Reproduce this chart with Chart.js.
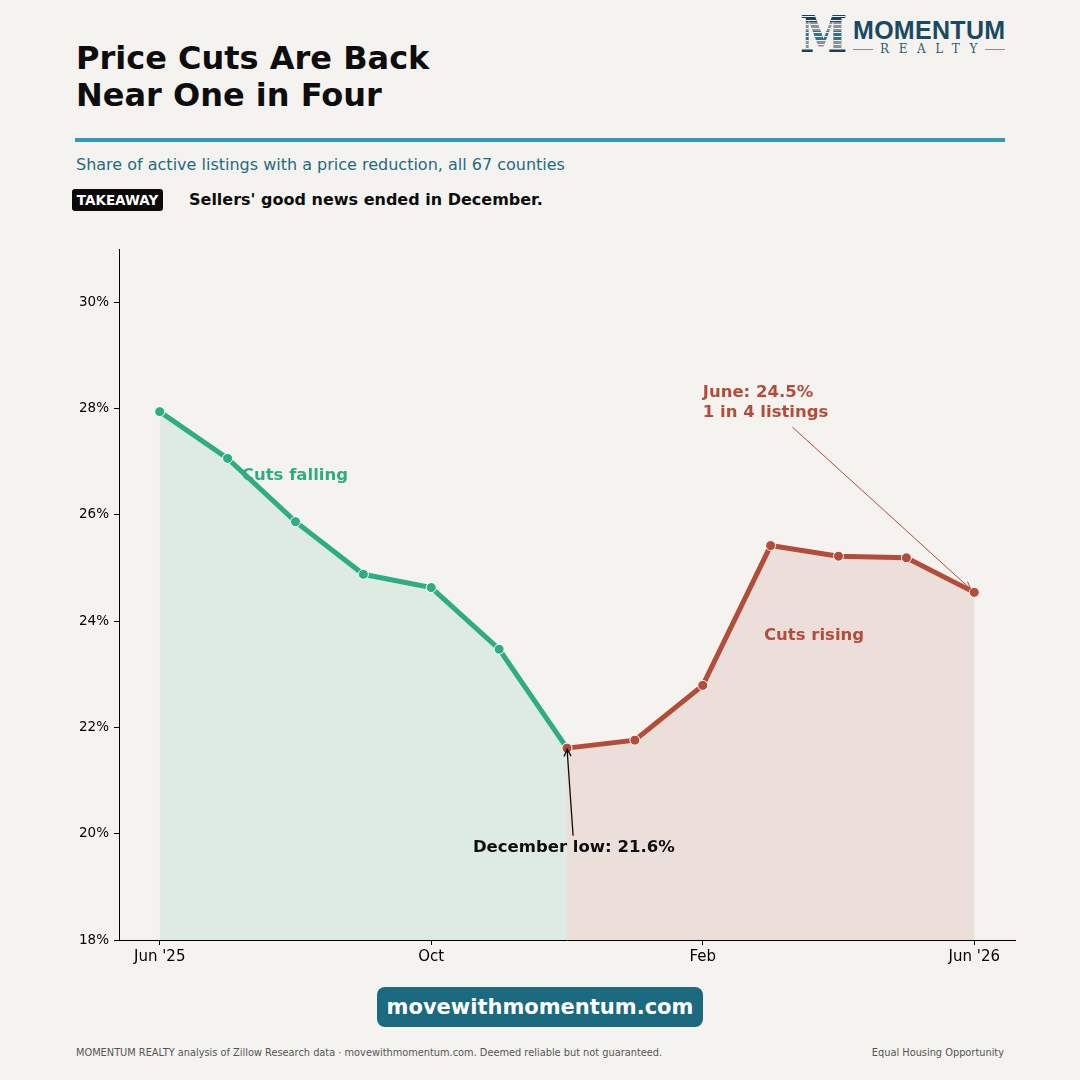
<!DOCTYPE html>
<html>
<head>
<meta charset="utf-8">
<script src="https://cdn.jsdelivr.net/npm/chart.js@4"></script>
<style>
  html, body { margin: 0; padding: 0; }
  body { width: 1080px; height: 1080px; background: #f4f3ef; position: relative; overflow: hidden; font-family: 'DejaVu Sans', sans-serif; }
  .abs { position: absolute; white-space: nowrap; }
  #title { left: 76px; top: 40px; font-size: 32px; line-height: 36.7px; font-weight: bold; color: #0d0d0d; }
  #rule { left: 75px; top: 138px; width: 930px; height: 4px; background: #3399b9; }
  #subtitle { left: 76px; top: 157px; font-size: 16px; line-height: 16px; color: #1f6b82; }
  #badge { left: 72px; top: 189px; width: 91px; height: 22px; border-radius: 3px; background: #0a0a0a; color: #fff; font-weight: bold; font-size: 13.5px; line-height: 22px; text-align: center; }
  #takeaway { left: 189px; top: 191px; font-size: 16px; line-height: 18px; font-weight: bold; color: #0d0d0d; }
  #logoM { left: 800px; top: 9px; font: bold 51px 'DejaVu Serif', serif; line-height: 51px; color: transparent;
    transform: scaleX(0.84); transform-origin: left top;
    background: repeating-linear-gradient(to bottom, rgba(0,0,0,0) 0 3px, #f4f3ef 3px 4px),
                linear-gradient(to bottom, #17425a 0 26%, #8d9297 26% 44%, #2f6f8f 44% 62%, #8d9297 62% 80%, #17425a 80%);
    -webkit-background-clip: text; background-clip: text; }
  #logoName { left: 853px; top: 16px; font: bold 25px 'Liberation Sans', Arial, sans-serif; line-height: 28px; color: #1a4a63; letter-spacing: 0.3px; }
  #logoSub { left: 853px; top: 42px; width: 152px; height: 14px; }
  #logoSub .ln { position: absolute; top: 7px; width: 20px; height: 1px; background: #8a8f93; }
  #logoSub .tx { position: absolute; left: 27px; top: 0; font: 12px 'DejaVu Serif', serif; line-height: 14px; color: #2d6075; letter-spacing: 9.6px; }
  #site { left: 377px; top: 987px; width: 326px; height: 40px; border-radius: 8px; background: #1b6a80; color: #fff; font-weight: bold; font-size: 21px; line-height: 40px; text-align: center; }
  #foot { left: 76px; top: 1047px; font-size: 9.8px; line-height: 12px; color: #555; }
  #eho { right: 76px; top: 1047px; font-size: 9.8px; line-height: 12px; color: #555; }
  #chartWrap { position: absolute; left: 0; top: 230px; width: 1080px; height: 760px; }
</style>
</head>
<body>
<div id="title" class="abs">Price Cuts Are Back<br>Near One in Four</div>
<div id="rule" class="abs"></div>
<div id="subtitle" class="abs">Share of active listings with a price reduction, all 67 counties</div>
<div id="badge" class="abs">TAKEAWAY</div>
<div id="takeaway" class="abs">Sellers' good news ended in December.</div>

<div id="logoM" class="abs">M</div>
<div id="logoName" class="abs">MOMENTUM</div>
<div id="logoSub" class="abs"><div class="ln" style="left:0"></div><div class="tx">REALTY</div><div class="ln" style="right:0"></div></div>

<div id="chartWrap"><canvas id="chart" width="1080" height="760"></canvas></div>

<div id="site" class="abs">movewithmomentum.com</div>
<div id="foot" class="abs">MOMENTUM REALTY analysis of Zillow Research data · movewithmomentum.com. Deemed reliable but not guaranteed.</div>
<div id="eho" class="abs">Equal Housing Opportunity</div>

<script>
// monthly share of listings with a price cut (%), Jun '25 .. Jun '26
const months = ["Jun '25", 'Jul', 'Aug', 'Sep', 'Oct', 'Nov', 'Dec', 'Jan', 'Feb', 'Mar', 'Apr', 'May', "Jun '26"];
const share = [27.94, 27.06, 25.87, 24.88, 24.63, 23.47, 21.61, 21.76, 22.79, 25.42, 25.22, 25.19, 24.54];
const lowIndex = 6; // December
const xTicks = [0, 4, 8, 12];
const yTicks = [18, 20, 22, 24, 26, 28, 30];

const green = '#2ead85';
const red = '#b44c3a';

var pts = share.map((v, i) => ({ x: i, y: v }));
var falling = pts.slice(0, lowIndex + 1);
var rising = pts.slice(lowIndex);

// text + arrows, placed in data units
var notes = [
    { text: ['Cuts falling'], x: 1.21, y: 26.73, align: 'left', color: green },
    { text: ['Cuts rising'], x: 9.64, y: 23.72, align: 'center', color: red },
    { text: ['June: 24.5%', '1 in 4 listings'], x: 8.0, y: 28.29, align: 'left', color: red,
      arrow: { from: [9.32, 27.65], to: 12, shrink: 5, width: 1 } },
    { text: ['December low: 21.6%'], x: 6.1, y: 19.73, align: 'center', color: '#0d0d0d',
      arrow: { from: [6.09, 19.96], to: lowIndex, shrink: 1, width: 1.3 } }
];

var notesPlugin = {
    id: 'notes',
    afterDatasetsDraw(chart) {
        let ctx = chart.ctx;
        let xs = chart.scales.x, ys = chart.scales.y;
        ctx.save();
        notes.forEach(n => {
            if (n.arrow) {
                let x0 = xs.getPixelForValue(n.arrow.from[0]), y0 = ys.getPixelForValue(n.arrow.from[1]);
                let x1 = xs.getPixelForValue(n.arrow.to), y1 = ys.getPixelForValue(share[n.arrow.to]);
                let ang = Math.atan2(y1 - y0, x1 - x0);
                x1 -= Math.cos(ang) * n.arrow.shrink;
                y1 -= Math.sin(ang) * n.arrow.shrink;
                ctx.strokeStyle = n.color;
                ctx.lineWidth = n.arrow.width;
                ctx.beginPath();
                ctx.moveTo(x0, y0);
                ctx.lineTo(x1, y1);
                ctx.moveTo(x1 - 8 * Math.cos(ang - 0.45), y1 - 8 * Math.sin(ang - 0.45));
                ctx.lineTo(x1, y1);
                ctx.lineTo(x1 - 8 * Math.cos(ang + 0.45), y1 - 8 * Math.sin(ang + 0.45));
                ctx.stroke();
            }
            ctx.fillStyle = n.color;
            ctx.font = 'bold 16.5px "DejaVu Sans"';
            ctx.textAlign = n.align;
            ctx.textBaseline = 'middle';
            let px = xs.getPixelForValue(n.x), py = ys.getPixelForValue(n.y);
            n.text.forEach((t, i) => ctx.fillText(t, px, py + i * 20));
        });
        ctx.restore();
    }
};

var ctx = document.getElementById('chart').getContext('2d');

var data = {
    datasets: [
        {
            data: rising,
            order: 0,
            borderColor: red,
            borderWidth: 5,
            backgroundColor: 'rgba(180, 76, 58, 0.12)',
            fill: 'start',
            pointRadius: 5,
            pointBackgroundColor: red,
            pointBorderColor: '#ffffff',
            pointBorderWidth: 1,
            tension: 0
        },
        {
            data: falling,
            order: 1,
            borderColor: green,
            borderWidth: 5,
            backgroundColor: 'rgba(46, 173, 133, 0.11)',
            fill: 'start',
            pointRadius: 5,
            pointBackgroundColor: green,
            pointBorderColor: '#ffffff',
            pointBorderWidth: 1,
            tension: 0
        }
    ]
};

var options = {
    responsive: false,
    animation: false,
    layout: { padding: { left: 49, right: 65, top: 19, bottom: 10 } },
    plugins: { legend: { display: false }, tooltip: { enabled: false } },
    scales: {
        x: {
            type: 'linear',
            min: -0.6,
            max: 12.6,
            afterBuildTicks: axis => { axis.ticks = xTicks.map(v => ({ value: v })); },
            afterFit: s => { s.height = 40; },
            grid: { drawOnChartArea: false, color: '#000', tickLength: 5, lineWidth: 1 },
            border: { color: '#000', width: 1 },
            ticks: {
                color: '#000',
                font: { family: 'DejaVu Sans', size: 15 },
                padding: 3,
                maxRotation: 0,
                autoSkip: false,
                callback: v => months[v]
            }
        },
        y: {
            min: 18,
            max: 31,
            afterBuildTicks: axis => { axis.ticks = yTicks.map(v => ({ value: v })); },
            afterFit: s => { s.width = 70; },
            grid: { drawOnChartArea: false, color: '#000', tickLength: 5, lineWidth: 1 },
            border: { color: '#000', width: 1 },
            ticks: {
                color: '#000',
                font: { family: 'DejaVu Sans', size: 13.5 },
                padding: 5,
                callback: v => v + '%'
            }
        }
    }
};

var config = {
    type: 'line',
    data: data,
    options: options,
    plugins: [notesPlugin]
};

var chart = new Chart(ctx, config);
</script>
</body>
</html>
